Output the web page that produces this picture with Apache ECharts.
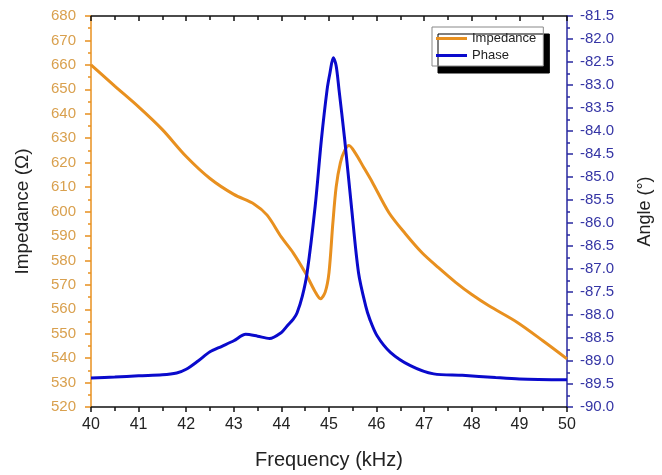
<!DOCTYPE html>
<html>
<head>
<meta charset="utf-8">
<script src="https://cdn.jsdelivr.net/npm/echarts@6/dist/echarts.min.js"></script>
<style>html,body{margin:0;padding:0;background:#fff;}#c{width:662px;height:475px;}</style>
</head>
<body>
<div id="c"></div>
<script>
const freqImp = [40, 40.5, 41, 41.5, 42, 42.5, 43, 43.43, 43.7, 44, 44.25, 44.5, 44.7, 44.82, 44.92, 45.0, 45.08, 45.15, 45.24, 45.33, 45.42, 45.55, 45.73, 45.91, 46.26, 46.6, 46.96, 47.3, 47.66, 48, 48.36, 48.95, 49.5, 50];
const impedance = [660, 651.3, 642.8, 633.5, 622.5, 613.5, 607, 603, 598.5, 589.5, 583, 575, 567.5, 564.3, 567, 575, 595, 610, 620, 625, 627, 624, 618, 612, 599.5, 591, 583, 577, 571, 566, 561.4, 554.7, 547, 539.7];
const freqPhase = [40, 40.5, 41, 41.5, 41.8, 42, 42.25, 42.5, 42.75, 43, 43.25, 43.5, 43.75, 44, 44.12, 44.25, 44.33, 44.44, 44.54, 44.71, 44.84, 44.96, 45.02, 45.09, 45.15, 45.21, 45.33, 45.47, 45.62, 45.77, 45.86, 46.01, 46.29, 46.71, 47.2, 47.8, 48.5, 49, 50];
const phase = [-89.37, -89.35, -89.32, -89.30, -89.26, -89.18, -89.0, -88.8, -88.68, -88.56, -88.42, -88.46, -88.51, -88.38, -88.24, -88.09, -87.95, -87.59, -87.08, -85.63, -84.19, -83.10, -82.74, -82.41, -82.58, -83.10, -84.19, -85.63, -87.08, -87.80, -88.1, -88.45, -88.81, -89.10, -89.28, -89.31, -89.36, -89.39, -89.41];
const xTicks = {min: 40, max: 50, interval: 1};
const impTicks = {min: 520, max: 680, interval: 10};
const phaseTicks = {min: -90, max: -81.5, interval: 0.5};

const orange = '#E8901F';
const orangeText = '#D9A04E';
const blue = '#0A0ACC';
const blueAxis = '#2828A0';
const blueText = '#3535A5';
const font = 'Liberation Sans, Arial, sans-serif';

const chart = echarts.init(document.getElementById('c'));
chart.setOption({
  animation: false,
  backgroundColor: '#fff',
  textStyle: {fontFamily: font},
  grid: {left: 91, right: 94, top: 16, bottom: 67, containLabel: false},
  legend: {
    orient: 'vertical', left: 432, top: 27,
    padding: [5, 7, 4, 4], itemGap: 4, itemWidth: 31, itemHeight: 3, icon: 'rect',
    backgroundColor: '#fff', borderColor: '#888', borderWidth: 1,
    shadowColor: '#000', shadowBlur: 0, shadowOffsetX: 6, shadowOffsetY: 7,
    textStyle: {fontSize: 13, color: '#222', fontFamily: font},
    data: ['Impedance', 'Phase']
  },
  xAxis: [{
    type: 'value', position: 'bottom', min: xTicks.min, max: xTicks.max, interval: xTicks.interval,
    name: 'Frequency (kHz)', nameLocation: 'middle', nameGap: 43,
    nameTextStyle: {fontSize: 20, color: '#222', fontFamily: font},
    axisLine: {lineStyle: {color: '#111', width: 1.5}},
    axisTick: {inside: false, length: 5, lineStyle: {color: '#111', width: 1.5}},
    minorTick: {show: true, splitNumber: 2, length: 4, lineStyle: {color: '#111', width: 1.5}},
    axisLabel: {fontSize: 16, color: '#222', margin: 10, fontFamily: font},
    splitLine: {show: false}
  }, {
    type: 'value', position: 'top', min: xTicks.min, max: xTicks.max, interval: xTicks.interval,
    axisLine: {lineStyle: {color: '#111', width: 1.5}},
    axisTick: {inside: true, length: 5, lineStyle: {color: '#111', width: 1.5}},
    minorTick: {show: true, splitNumber: 2, length: 4, lineStyle: {color: '#111', width: 1.5}},
    axisLabel: {show: false},
    splitLine: {show: false}
  }],
  yAxis: [{
    type: 'value', position: 'left', min: impTicks.min, max: impTicks.max, interval: impTicks.interval,
    name: 'Impedance (\u03A9)', nameLocation: 'middle', nameGap: 59, nameRotate: 90,
    nameTextStyle: {fontSize: 19, color: '#222', fontFamily: font},
    axisLine: {show: true, lineStyle: {color: orange, width: 1.5}},
    axisTick: {inside: false, length: 6, lineStyle: {color: orange, width: 1.5}},
    minorTick: {show: true, splitNumber: 2, length: 3, lineStyle: {color: orange, width: 1.5}},
    axisLabel: {fontSize: 15, color: orangeText, margin: 15, fontFamily: font},
    splitLine: {show: false}
  }, {
    type: 'value', position: 'right', min: phaseTicks.min, max: phaseTicks.max, interval: phaseTicks.interval,
    name: 'Angle (\u00B0)', nameLocation: 'middle', nameGap: 69, nameRotate: 90,
    nameTextStyle: {fontSize: 18, color: '#222', fontFamily: font},
    axisLine: {show: true, lineStyle: {color: blueAxis, width: 1.5}},
    axisTick: {inside: false, length: 6, lineStyle: {color: blueAxis, width: 1.5}},
    minorTick: {show: true, splitNumber: 2, length: 3, lineStyle: {color: blueAxis, width: 1.5}},
    axisLabel: {fontSize: 15, color: blueText, margin: 13, fontFamily: font, formatter: v => v.toFixed(1)},
    splitLine: {show: false}
  }],
  series: [{
    name: 'Impedance', type: 'line', xAxisIndex: 0, yAxisIndex: 0,
    data: freqImp.map((f, i) => [f, impedance[i]]),
    smooth: 0.3, showSymbol: false, symbol: 'none',
    lineStyle: {color: orange, width: 3}, itemStyle: {color: orange}, z: 3
  }, {
    name: 'Phase', type: 'line', xAxisIndex: 0, yAxisIndex: 1,
    data: freqPhase.map((f, i) => [f, phase[i]]),
    smooth: 0.3, showSymbol: false, symbol: 'none',
    lineStyle: {color: blue, width: 3}, itemStyle: {color: blue}, z: 4
  }]
});
</script>
</body>
</html>
